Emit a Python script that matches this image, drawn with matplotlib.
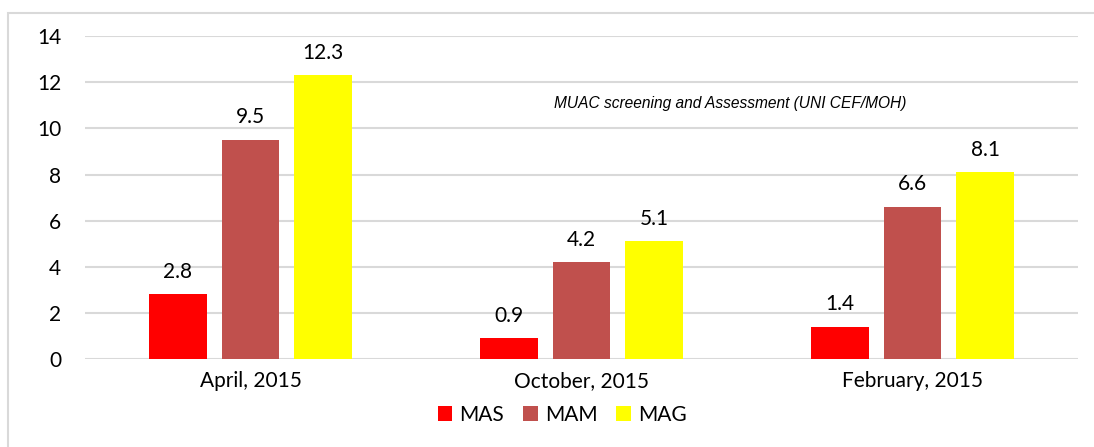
import matplotlib.pyplot as plt
import numpy as np
from matplotlib.patches import Rectangle

plt.rcParams["font.family"] = ["Lato", "DejaVu Sans"]

periods = ["April, 2015", "October, 2015", "February, 2015"]
mas = [2.8, 0.9, 1.4]
mam = [9.5, 4.2, 6.6]
mag = [12.3, 5.1, 8.1]
series_names = ["MAS", "MAM", "MAG"]
note = "MUAC screening and Assessment (UNI CEF/MOH)"


def main() -> None:
    fig = plt.figure(figsize=(10.94, 4.47), dpi=100)
    ax = fig.add_axes([0.0777, 0.197, 0.9077, 0.722])

    # outer chart border (only top/left visible in the original crop)
    fig.patches.append(Rectangle((0.0073, -0.05), 1.1, 1.021, transform=fig.transFigure,
                                 fill=False, edgecolor="#d9d9d9", linewidth=1.5))

    x = np.arange(len(periods))
    width = 0.175
    step = 0.22
    colors = ["#FF0000", "#C0504D", "#FFFF00"]
    for i, (vals, name, color) in enumerate(zip([mas, mam, mag], series_names, colors)):
        bars = ax.bar(x + (i - 1) * step, vals, width, color=color, label=name, zorder=3)
        ax.bar_label(bars, labels=[f"{v:.1f}" for v in vals], padding=9, fontsize=15)

    ax.set_xlim(-0.5, 2.5)
    ax.set_ylim(0, 14)
    ax.set_yticks(range(0, 15, 2))
    ax.set_xticks(x)
    ax.set_xticklabels(periods, fontsize=15)
    ax.tick_params(axis="y", labelsize=15, length=0, pad=17)
    ax.tick_params(axis="x", length=0, pad=9)
    ax.grid(axis="y", color="#d9d9d9", linewidth=1.5, zorder=0)
    for side in ("top", "right", "left", "bottom"):
        ax.spines[side].set_visible(False)

    ax.text(0.65, 11.1, note, transform=ax.get_yaxis_transform(),
            fontsize=11.2, style="italic", family="Liberation Sans", ha="center", va="center")

    fig.legend(loc="center", bbox_to_anchor=(0.514, 0.072), ncol=3, frameon=False,
               fontsize=15, handlelength=0.7, handleheight=0.7, handletextpad=0.35,
               columnspacing=0.9)

    fig.savefig("out.png", dpi=100)


main() if __name__ == "__main__" else None
